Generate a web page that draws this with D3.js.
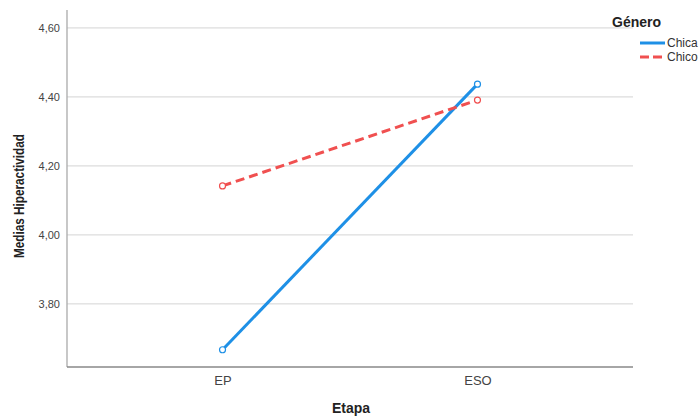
<!DOCTYPE html>
<html><head><meta charset="utf-8">
<script src="https://cdn.jsdelivr.net/npm/d3@7"></script>
<style>body{margin:0;background:#fff}svg{display:block}</style>
</head><body>
<svg id="c" width="699" height="417"></svg>
<script>
const categories = ["EP", "ESO"];
const seriesNames = ["Chica", "Chico"];
const chica = [3.667, 4.437];
const chico = [4.142, 4.391];
const yTicks = [3.80, 4.00, 4.20, 4.40, 4.60];
const colors = ["#1e90e6", "#f05050"];

const svg = d3.select("#c");
const L = 67, R = 633, T = 10, B = 367;
const x = d3.scalePoint().domain(categories).range([L, R]).padding(0.61);
const y = d3.scaleLinear().domain([3.617, 4.652]).range([B, T]);
const fmt = v => d3.format(".2f")(v).replace(".", ",");

// gridlines
svg.append("g").selectAll("line").data(yTicks).join("line")
  .attr("x1", L).attr("x2", R).attr("y1", d => y(d)).attr("y2", d => y(d))
  .attr("stroke", "#d4d4d4").attr("stroke-width", 1);

// y axis
const ya = svg.append("g").attr("transform", `translate(${L},0)`)
  .call(d3.axisLeft(y).tickValues(yTicks).tickFormat(fmt).tickSize(0).tickPadding(7));
ya.select(".domain").remove();
ya.selectAll("text").attr("font-family", "Liberation Sans, Arial, sans-serif").attr("font-size", 11).attr("fill", "#444");
svg.append("line").attr("x1", L).attr("x2", L).attr("y1", T).attr("y2", B).attr("stroke", "#aaa").attr("stroke-width", 1.3);

// x axis
const xa = svg.append("g").attr("transform", `translate(0,${B})`)
  .call(d3.axisBottom(x).tickSize(0).tickPadding(9));
xa.select(".domain").remove();
xa.selectAll("text").attr("font-family", "Liberation Sans, Arial, sans-serif").attr("font-size", 13).attr("fill", "#444");
svg.append("line").attr("x1", L).attr("x2", R).attr("y1", B).attr("y2", B).attr("stroke", "#888").attr("stroke-width", 1.3);

// titles
svg.append("text").attr("x", 351).attr("y", 413).attr("text-anchor", "middle")
  .attr("font-family", "Liberation Sans, Arial, sans-serif").attr("font-weight", "bold").attr("font-size", 14).attr("fill", "#222").text("Etapa");
svg.append("text").attr("transform", "translate(24,196) rotate(-90)").attr("text-anchor", "middle")
  .attr("font-family", "Liberation Sans Narrow, Arial Narrow, Liberation Sans, sans-serif").attr("font-weight", "bold").attr("font-size", 14)
  .attr("textLength", 124).attr("lengthAdjust", "spacingAndGlyphs")
  .attr("fill", "#222").text("Medias Hiperactividad");

// series
const series = [chica, chico];
const line = d3.line().x((d, i) => x(categories[i])).y(d => y(d));
series.forEach((s, k) => {
  svg.append("path").datum(s).attr("d", line).attr("fill", "none")
    .attr("stroke", colors[k]).attr("stroke-width", 3)
    .attr("stroke-dasharray", k === 1 ? "9,5" : null);
  svg.append("g").selectAll("circle").data(s).join("circle")
    .attr("cx", (d, i) => x(categories[i])).attr("cy", d => y(d)).attr("r", 3)
    .attr("fill", "#fff").attr("stroke", colors[k]).attr("stroke-width", 1.2);
});

// legend
svg.append("text").attr("x", 612).attr("y", 27).attr("font-family", "Liberation Sans, Arial, sans-serif")
  .attr("font-weight", "bold").attr("font-size", 14).attr("fill", "#222").text("Género");
seriesNames.forEach((n, k) => {
  const yy = 43 + k * 14;
  svg.append("line").attr("x1", 640).attr("x2", 665).attr("y1", yy).attr("y2", yy)
    .attr("stroke", colors[k]).attr("stroke-width", 3).attr("stroke-dasharray", k === 1 ? "9,4" : null);
  svg.append("text").attr("x", 667).attr("y", yy + 4).attr("font-family", "Liberation Sans, Arial, sans-serif")
    .attr("font-size", 12).attr("fill", "#333").text(n);
});
</script>
</body></html>
